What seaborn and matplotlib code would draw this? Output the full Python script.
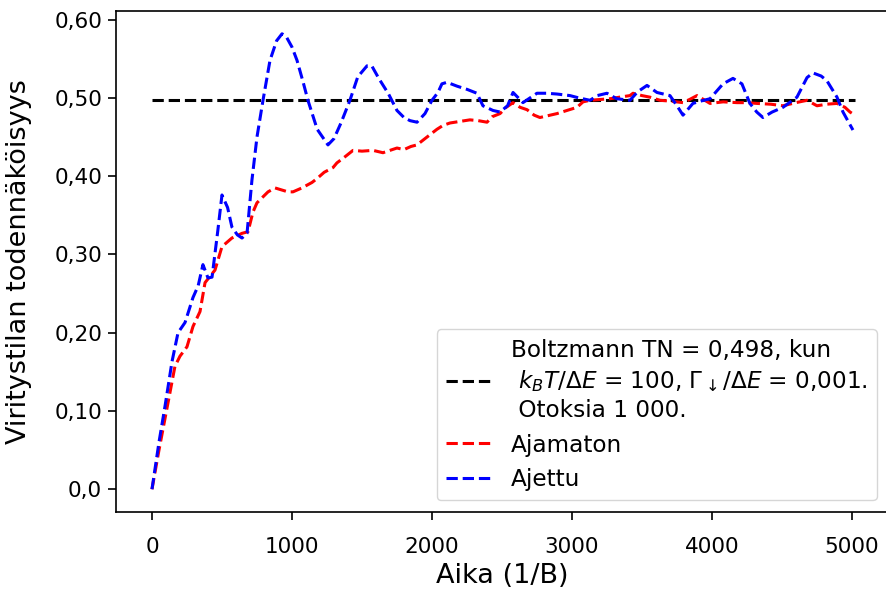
import matplotlib
matplotlib.use("Agg")
import matplotlib.pyplot as plt
import seaborn as sns
import numpy as np

# ---- data ----
t_boltz = [0, 5021]
p_boltz = [0.498, 0.498]

t_red = [0, 50, 129, 164, 200, 250, 293, 343, 379, 450, 500, 571, 643, 686, 721, 750,
         829, 879, 971, 1007, 1071, 1143, 1179, 1230, 1293, 1321, 1380, 1436, 1500,
         1579, 1650, 1700, 1750, 1800, 1850, 1893, 1950, 2000, 2036, 2080, 2129, 2200,
         2271, 2330, 2393, 2430, 2486, 2530, 2579, 2630, 2679, 2730, 2771, 2820, 2893,
         2964, 3036, 3079, 3129, 3200, 3271, 3340, 3414, 3436, 3500, 3557, 3629, 3700,
         3793, 3840, 3893, 3940, 3986, 4080, 4179, 4250, 4321, 4420, 4507, 4600, 4679,
         4750, 4820, 4893, 4950, 4986, 5021]
p_red = [0.0, 0.05, 0.124, 0.157, 0.17, 0.182, 0.208, 0.227, 0.264, 0.28, 0.31, 0.321,
         0.327, 0.329, 0.354, 0.366, 0.38, 0.385, 0.38, 0.38, 0.385, 0.392, 0.397, 0.405,
         0.411, 0.417, 0.425, 0.433, 0.432, 0.433, 0.43, 0.433, 0.436, 0.434, 0.438,
         0.44, 0.448, 0.455, 0.46, 0.465, 0.468, 0.47, 0.472, 0.471, 0.469, 0.476, 0.48,
         0.488, 0.494, 0.488, 0.485, 0.478, 0.475, 0.477, 0.48, 0.484, 0.488, 0.495,
         0.497, 0.498, 0.499, 0.501, 0.503, 0.506, 0.503, 0.501, 0.497, 0.496, 0.494,
         0.498, 0.503, 0.498, 0.493, 0.495, 0.494, 0.494, 0.493, 0.492, 0.49, 0.494,
         0.497, 0.49, 0.492, 0.493, 0.488, 0.482, 0.478]

t_blue = [0, 50, 93, 143, 186, 236, 293, 330, 364, 400, 429, 470, 500, 540, 571, 610,
          643, 679, 714, 750, 793, 843, 890, 929, 960, 1000, 1036, 1080, 1114, 1180,
          1257, 1300, 1350, 1414, 1470, 1536, 1570, 1620, 1690, 1750, 1800, 1843, 1893,
          1950, 2000, 2043, 2071, 2107, 2180, 2250, 2321, 2364, 2436, 2486, 2540, 2579,
          2650, 2700, 2750, 2820, 2893, 2986, 3050, 3129, 3180, 3250, 3320, 3414, 3470,
          3536, 3607, 3700, 3750, 3793, 3864, 3920, 3986, 4030, 4079, 4150, 4214, 4271,
          4320, 4364, 4430, 4507, 4607, 4679, 4721, 4780, 4821, 4893, 4936, 5007]
p_blue = [0.0, 0.06, 0.106, 0.163, 0.20, 0.213, 0.245, 0.26, 0.287, 0.27, 0.271, 0.33,
          0.376, 0.36, 0.335, 0.325, 0.321, 0.327, 0.395, 0.45, 0.497, 0.548, 0.573,
          0.582, 0.578, 0.565, 0.548, 0.52, 0.497, 0.46, 0.44, 0.448, 0.468, 0.497, 0.527,
          0.541, 0.541, 0.525, 0.505, 0.484, 0.475, 0.471, 0.469, 0.48, 0.497, 0.507,
          0.518, 0.52, 0.515, 0.511, 0.506, 0.49, 0.484, 0.482, 0.49, 0.507, 0.494, 0.50,
          0.506, 0.506, 0.505, 0.503, 0.500, 0.497, 0.503, 0.506, 0.499, 0.497, 0.508,
          0.516, 0.507, 0.503, 0.49, 0.478, 0.493, 0.496, 0.499, 0.508, 0.518, 0.525,
          0.518, 0.493, 0.482, 0.475, 0.482, 0.488, 0.501, 0.526, 0.532, 0.528, 0.522,
          0.501, 0.482, 0.459]

y_ticks = [0.0, 0.1, 0.2, 0.3, 0.4, 0.5, 0.6]
y_ticklabels = ["0,0", "0,10", "0,20", "0,30", "0,40", "0,50", "0,60"]
x_ticks = [0, 1000, 2000, 3000, 4000, 5000]

label_boltz = ("Boltzmann TN = 0,498, kun\n $k_BT/\\Delta E$ = 100, "
               "$\\Gamma_\\downarrow/\\Delta E$ = 0,001.\n Otoksia 1 000.")
label_red = "Ajamaton"
label_blue = "Ajettu"

# ---- plot ----
fig = plt.figure(figsize=(8.87, 5.90), dpi=100)
ax = fig.add_axes([116 / 887, 1 - 512 / 590, (888.5 - 116) / 887, (512 - 11) / 590])

lw = 2.2
sns.lineplot(x=t_boltz, y=p_boltz, ax=ax, color="k", linestyle="--", linewidth=lw,
             label=label_boltz, estimator=None)
sns.lineplot(x=t_red, y=p_red, ax=ax, color="r", linestyle="--", linewidth=lw,
             label=label_red, estimator=None)
sns.lineplot(x=t_blue, y=p_blue, ax=ax, color="b", linestyle="--", linewidth=lw,
             label=label_blue, estimator=None)

ax.set_xlim(-257, 5261)
ax.set_yticks(y_ticks)
ax.set_yticklabels(y_ticklabels)
ax.set_xticks(x_ticks)
ax.tick_params(labelsize=15.5, length=6, width=1.2)
ax.tick_params(axis="y", pad=4)
ax.tick_params(axis="x", pad=12)
for s in ax.spines.values():
    s.set_linewidth(1.2)
    s.set_color("black")

ax.set_xlabel("Aika (1/B)", fontsize=19.5, labelpad=4)
ax.set_ylabel("Viritystilan todennäköisyys", fontsize=19.5, labelpad=16)

leg = ax.legend(loc="lower right", fontsize=16.7, labelspacing=0.5,
                borderaxespad=0.5)
leg.get_texts()[0].set_linespacing(1.3)

fig.savefig("out.png", dpi=100)
